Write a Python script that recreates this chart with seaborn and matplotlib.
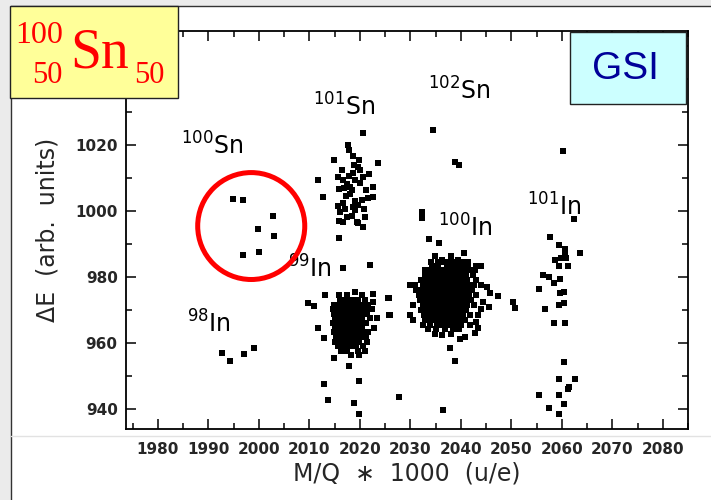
import seaborn as sns
import pandas as pd
import matplotlib.pyplot as plt
from matplotlib.patches import Rectangle, Ellipse
from matplotlib.lines import Line2D
from matplotlib.ticker import MultipleLocator

sns.set_style('ticks')
plt.rcParams['font.family'] = ['DejaVu Sans']

# points: (M/Q*1000, dE)
sn100 = [(1994.8, 1003.5), (1996.8, 1003.3), (2002.9, 998.4), (1999.9, 994.6),
         (2003.0, 992.4), (1996.9, 986.5), (2000.0, 987.4)]

in98 = [(1992.8, 956.8), (1994.2, 954.6), (1997.1, 956.5), (1999.0, 958.4)]

sn101 = [(2020.7, 1023.7), (2017.7, 1020.0), (2017.9, 1018.4), (2014.8, 1015.4),
         (2018.7, 1016.6), (2019.9, 1015.4), (2023.7, 1014.4), (2019.7, 1013.2),
         (2020.0, 1012.4), (2018.7, 1011.6), (2021.9, 1011.2), (2020.6, 1010.2),
         (2011.8, 1009.3), (2015.7, 1010.2), (2016.7, 1009.3), (2017.9, 1010.6),
         (2015.9, 1006.5), (2018.1, 1007.1), (2018.4, 1006.3), (2022.7, 1007.3),
         (2021.2, 1006.3), (2012.8, 1004.3), (2015.7, 1001.5), (2016.7, 1002.3),
         (2018.7, 1001.3), (2019.7, 1001.8), (2020.4, 1003.3), (2021.7, 1003.8),
         (2022.7, 1004.3), (2016.1, 999.7), (2017.4, 998.2), (2019.0, 1000.3),
         (2021.0, 998.2), (2016.7, 996.7), (2019.4, 996.7), (2015.9, 997.0),
         (2019.7, 996.4), (2020.6, 995.2), (2015.9, 991.7), (2017.5, 1008.0),
         (2018.0, 1005.0), (2019.0, 1003.0), (2017.0, 1000.5), (2018.5, 998.5),
         (2020.0, 1008.5), (2016.5, 1012.5), (2019.0, 1009.5), (2017.2, 1004.5),
         (2020.8, 1000.5), (2018.8, 1013.8), (2016.8, 1006.8)]

sn102 = [(2034.5, 1024.5), (2038.8, 1014.8), (2039.6, 1013.9)]

in99 = [(2016.7, 982.7), (2022.0, 983.6),
        (2019.0, 975.5), (2022.7, 974.9),
        (2013.1, 974.4), (2015.9, 974.4), (2017.5, 974.4), (2020.5, 974.4),
        (2016.0, 973.0), (2017.2, 973.0), (2018.4, 973.0), (2019.6, 973.0), (2021.0, 973.0),
        (2022.7, 972.5), (2025.8, 973.5),
        (2009.8, 972.0), (2010.9, 971.2), (2014.8, 971.6), (2016.0, 971.6), (2017.1, 971.6),
        (2018.2, 971.6), (2019.3, 971.6), (2020.4, 971.6), (2021.6, 971.6),
        (2014.6, 970.2), (2015.7, 970.2), (2016.8, 970.2), (2017.9, 970.2), (2019.0, 970.2),
        (2020.1, 970.2), (2021.2, 970.2), (2022.5, 970.2),
        (2014.8, 968.8), (2015.9, 968.8), (2017.0, 968.8), (2018.1, 968.8), (2019.2, 968.8),
        (2020.3, 968.8), (2021.4, 968.8), (2025.8, 968.4),
        (2015.0, 967.4), (2016.1, 967.4), (2017.2, 967.4), (2018.3, 967.4), (2019.4, 967.4),
        (2020.5, 967.4), (2022.0, 967.4), (2023.4, 967.4),
        (2014.7, 966.0), (2015.8, 966.0), (2016.9, 966.0), (2018.0, 966.0), (2019.1, 966.0),
        (2020.2, 966.0), (2021.3, 966.0),
        (2011.8, 964.4), (2015.0, 964.6), (2016.1, 964.6), (2017.2, 964.6), (2018.3, 964.6),
        (2019.4, 964.6), (2020.5, 964.6), (2022.8, 964.6),
        (2014.9, 963.2), (2016.0, 963.2), (2017.1, 963.2), (2018.2, 963.2), (2019.3, 963.2),
        (2020.4, 963.2), (2021.6, 963.2),
        (2012.9, 961.4), (2015.2, 961.8), (2016.4, 961.8), (2017.6, 961.8), (2018.8, 961.8),
        (2020.0, 961.8), (2021.3, 961.8),
        (2015.0, 960.4), (2016.3, 960.4), (2017.4, 960.4), (2018.6, 960.4), (2019.9, 960.4),
        (2021.5, 960.4),
        (2015.6, 959.0), (2016.8, 959.0), (2018.0, 959.0), (2019.3, 959.0), (2020.6, 959.0),
        (2016.3, 957.6), (2017.5, 957.6), (2019.6, 957.6), (2021.0, 957.6),
        (2014.9, 955.3), (2018.2, 956.2), (2019.8, 956.2), (2017.9, 953.0),
        (2019.8, 948.5), (2012.9, 947.4), (2013.8, 942.7), (2018.8, 941.7), (2019.8, 938.4),
        (2027.7, 943.5)]

in100 = [(2032.4, 999.6), (2032.4, 997.7), (2033.8, 991.4), (2035.7, 990.4),
         (2040.6, 987.3), (2034.9, 986.3), (2038.0, 986.3), (2036.2, 985.1), (2039.5, 985.1),
         (2034.2, 984.6), (2035.4, 984.6), (2036.6, 984.6), (2037.8, 984.6), (2039.0, 984.6),
         (2040.2, 984.6), (2041.5, 984.6),
         (2034.3, 983.3), (2035.5, 983.3), (2037.2, 983.3), (2038.1, 983.3), (2039.0, 983.3),
         (2040.2, 983.3), (2041.5, 983.3), (2043.1, 983.3), (2044.0, 983.3),
         (2033.0, 982.0), (2034.0, 982.0), (2035.0, 982.0), (2036.0, 982.0), (2037.0, 982.0),
         (2038.0, 982.0), (2039.2, 982.0), (2040.5, 982.0), (2041.7, 982.0), (2042.8, 982.0),
         (2033.0, 980.5), (2034.2, 980.5), (2035.3, 980.5), (2036.4, 980.5), (2037.5, 980.5),
         (2038.6, 980.5), (2039.8, 980.5), (2041.0, 980.5), (2042.5, 980.5),
         (2032.2, 979.0), (2033.3, 979.0), (2034.4, 979.0), (2035.5, 979.0), (2036.6, 979.0),
         (2037.7, 979.0), (2038.8, 979.0), (2040.0, 979.0), (2041.2, 979.0), (2043.0, 979.0),
         (2030.0, 977.5), (2031.0, 977.5), (2032.6, 977.5), (2033.7, 977.5), (2034.8, 977.5),
         (2035.9, 977.5), (2037.0, 977.5), (2038.1, 977.5), (2039.2, 977.5), (2040.3, 977.5),
         (2041.4, 977.5), (2042.6, 977.5), (2044.0, 977.5), (2045.1, 977.0),
         (2031.2, 976.0), (2032.4, 976.0), (2033.5, 976.0), (2034.6, 976.0), (2035.7, 976.0),
         (2036.8, 976.0), (2037.9, 976.0), (2039.0, 976.0), (2040.1, 976.0), (2041.2, 976.0),
         (2042.3, 976.0), (2045.8, 975.0),
         (2031.8, 974.5), (2032.9, 974.5), (2034.0, 974.5), (2035.1, 974.5), (2036.2, 974.5),
         (2037.3, 974.5), (2038.4, 974.5), (2039.5, 974.5), (2040.6, 974.5), (2041.7, 974.5),
         (2043.0, 974.5), (2047.4, 974.2),
         (2032.0, 973.0), (2033.1, 973.0), (2034.2, 973.0), (2035.3, 973.0), (2036.4, 973.0),
         (2037.5, 973.0), (2038.6, 973.0), (2039.7, 973.0), (2040.8, 973.0), (2042.0, 973.0),
         (2044.5, 972.4),
         (2030.6, 971.5), (2032.5, 971.5), (2033.6, 971.5), (2034.7, 971.5), (2035.8, 971.5),
         (2036.9, 971.5), (2038.0, 971.5), (2039.1, 971.5), (2040.2, 971.5), (2041.3, 971.5),
         (2042.6, 971.5), (2045.6, 971.0),
         (2032.2, 970.0), (2033.3, 970.0), (2034.4, 970.0), (2035.5, 970.0), (2036.6, 970.0),
         (2037.7, 970.0), (2038.8, 970.0), (2039.9, 970.0), (2041.0, 970.0), (2044.0, 970.2),
         (2029.9, 968.5), (2032.8, 968.5), (2033.9, 968.5), (2035.0, 968.5), (2036.1, 968.5),
         (2037.2, 968.5), (2038.3, 968.5), (2039.4, 968.5), (2040.5, 968.5), (2041.8, 968.5),
         (2043.4, 968.5),
         (2030.6, 967.0), (2033.0, 967.0), (2034.1, 967.0), (2035.2, 967.0), (2036.3, 967.0),
         (2037.4, 967.0), (2038.5, 967.0), (2039.6, 967.0), (2040.8, 967.0), (2043.0, 966.4),
         (2032.6, 965.5), (2034.0, 965.5), (2035.2, 965.5), (2036.4, 965.5), (2037.6, 965.5),
         (2038.8, 965.5), (2040.0, 965.5), (2041.8, 965.5),
         (2033.6, 964.2), (2035.0, 964.2), (2036.8, 964.2), (2038.4, 964.2), (2039.6, 964.2),
         (2043.5, 964.4),
         (2034.9, 962.8), (2036.2, 962.4), (2038.0, 962.8), (2042.8, 962.9),
         (2039.8, 961.1), (2040.8, 961.9),
         (2037.9, 958.3), (2038.9, 954.6), (2036.5, 939.7),
         (2025.6, 973.5), (2026.0, 968.4), (2050.4, 972.5), (2050.7, 970.5)]

in101 = [(2060.3, 1018.2), (2062.4, 997.4), (2057.7, 992.2), (2059.5, 989.7),
         (2060.6, 987.6), (2058.6, 985.1), (2059.5, 983.3), (2061.3, 983.3),
         (2063.6, 987.1), (2059.9, 985.6), (2060.9, 985.6), (2060.6, 988.5),
         (2056.3, 980.6), (2057.5, 980.0), (2058.4, 978.0), (2059.6, 979.3),
         (2055.5, 976.2), (2059.6, 975.0), (2060.4, 975.5), (2056.7, 970.2),
         (2059.5, 971.5), (2060.4, 972.2), (2058.4, 966.1), (2060.6, 966.1),
         (2060.4, 954.3), (2059.5, 949.2), (2062.6, 949.2), (2061.5, 946.7),
         (2061.3, 945.9), (2055.5, 944.2), (2059.5, 944.2), (2057.5, 940.4),
         (2060.4, 941.4), (2059.5, 938.3)]

groups = {'100Sn': sn100, '98In': in98, '101Sn': sn101, '102Sn': sn102,
          '99In': in99, '100In': in100, '101In': in101}
rows = []
for name, pts in groups.items():
    for x, y in pts:
        rows.append((name, x, y))
df = pd.DataFrame(rows, columns=['group', 'mq', 'de'])

W, H = 711, 500
fig = plt.figure(figsize=(W / 100, H / 100), dpi=100)
fig.patch.set_facecolor('#ebebeb')

# white slide panel
fig.add_artist(Rectangle((11 / W, 0), 1 - 11 / W, 494 / H, transform=fig.transFigure,
                         facecolor='white', edgecolor='none', zorder=-10))
fig.add_artist(Line2D([11 / W, 11 / W], [0, 494 / H], transform=fig.transFigure,
                      color='#333333', lw=1, zorder=-9))
fig.add_artist(Line2D([11 / W, 1], [494 / H, 494 / H], transform=fig.transFigure,
                      color='#333333', lw=1, zorder=-9))
fig.add_artist(Line2D([11 / W, 1], [1 - 436 / H, 1 - 436 / H], transform=fig.transFigure,
                      color='#e2e2e2', lw=1, zorder=-9))

ax = fig.add_axes([126 / W, 1 - 429 / H, 562 / W, 398 / H])
ax.set_facecolor('none')
sns.scatterplot(data=df, x='mq', y='de', marker='s', s=24, color='black',
                linewidth=0, ax=ax, legend=False)

ax.set_xlim(1973.7, 2085.0)
ax.set_ylim(933.9, 1054.5)
ax.xaxis.set_major_locator(MultipleLocator(10))
ax.xaxis.set_minor_locator(MultipleLocator(5))
ax.yaxis.set_major_locator(MultipleLocator(20))
ax.yaxis.set_minor_locator(MultipleLocator(10))
ax.tick_params(which='both', direction='in', top=True, right=True, width=1.1, color='black')
ax.tick_params(which='major', length=7, labelsize=11)
ax.tick_params(which='minor', length=4)
ax.tick_params(axis='x', pad=9)
ax.tick_params(axis='y', pad=6)
for lab in ax.get_xticklabels() + ax.get_yticklabels():
    lab.set_fontweight('bold')
for sp in ax.spines.values():
    sp.set_visible(True)
    sp.set_linewidth(1.3)
    sp.set_color('black')

ax.set_xlabel('M/Q  \u2217  1000  (u/e)', fontsize=17)
ax.set_ylabel('\u0394E  (arb.  units)', fontsize=17)
ax.xaxis.set_label_coords(0.5, (429 - 474) / 398)
ax.xaxis.label.set_va('center')
ax.yaxis.set_label_coords((48 - 126) / 562, 0.5)
ax.yaxis.label.set_va('center')

# isotope labels
for txt, x, y in [(r'$^{100}$Sn', 1984.6, 1017.0), (r'$^{101}$Sn', 2010.7, 1029.0),
                  (r'$^{102}$Sn', 2033.5, 1033.6), (r'$^{100}$In', 2035.5, 992.1),
                  (r'$^{101}$In', 2053.1, 998.7), (r'$^{99}$In', 2005.8, 979.7),
                  (r'$^{98}$In', 1985.8, 963.0)]:
    ax.text(x, y, txt, fontsize=17, ha='left', va='baseline', color='black')

ax.add_patch(Ellipse((1998.5, 995.4), 21.2, 32.4, fill=False, edgecolor='red',
                     lw=3.6, zorder=5))

# title boxes
fig.add_artist(Rectangle((10 / W, 1 - 98 / H), 168 / W, 92 / H, transform=fig.transFigure,
                         facecolor='#ffff99', edgecolor='#222222', lw=1, zorder=5))
serif = dict(color='red', family='Liberation Serif', zorder=6, va='baseline')
fig.text(63 / W, 1 - 43 / H, '100', ha='right', fontsize=23, **serif)
fig.text(63 / W, 1 - 83 / H, '50', ha='right', fontsize=22, **serif)
fig.text(70 / W, 1 - 68 / H, 'Sn', ha='left', fontsize=40, **serif)
fig.text(134 / W, 1 - 83 / H, '50', ha='left', fontsize=22, **serif)

fig.add_artist(Rectangle((570 / W, 1 - 104 / H), 116 / W, 72 / H, transform=fig.transFigure,
                         facecolor='#ccffff', edgecolor='#222222', lw=1, zorder=5))
fig.text(625 / W, 1 - 69 / H, 'GSI', ha='center', va='center', fontsize=28,
         color='#000099', family='Liberation Sans', zorder=6)

fig.savefig('out.png', dpi=100, facecolor=fig.get_facecolor())
